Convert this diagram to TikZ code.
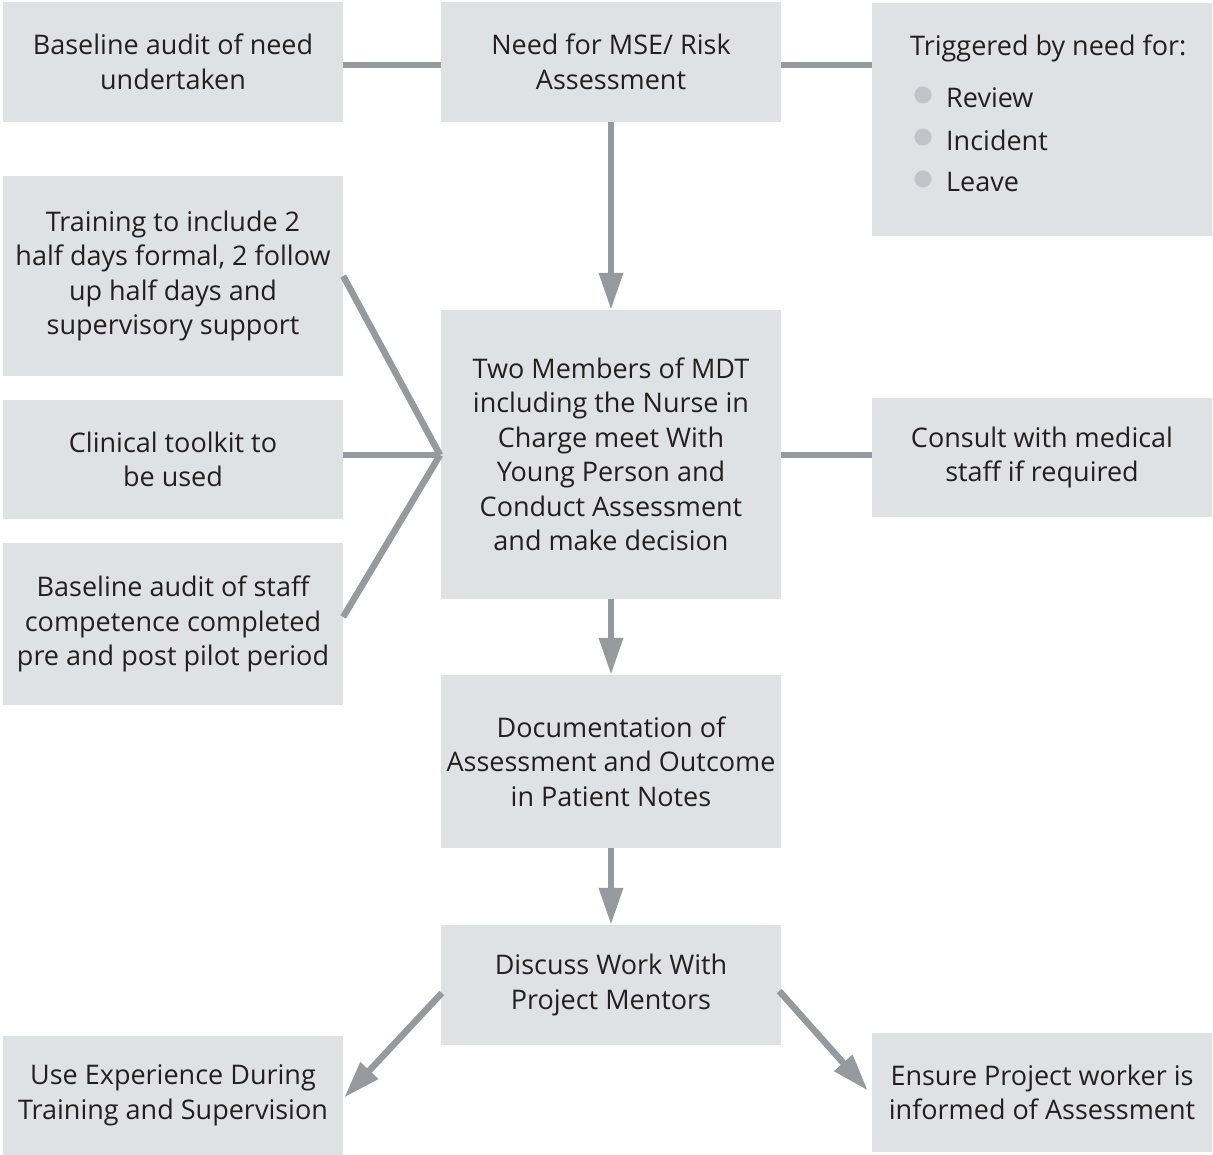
\documentclass[tikz,border=0pt]{standalone}
\usepackage{fontspec}
\setmainfont{Open Sans}
\usetikzlibrary{arrows.meta,calc}
\definecolor{boxfill}{HTML}{E0E1E4}
\definecolor{linec}{HTML}{959A9F}
\definecolor{bulc}{HTML}{C0C4C8}
\definecolor{txt}{HTML}{231F20}
\begin{document}
\begin{tikzpicture}[x=1pt,y=-1pt,
  box/.style={fill=boxfill,draw=none,minimum width=340pt,inner sep=0pt,align=center,text=txt,
    font=\fontsize{27}{34.5}\selectfont},
  conn/.style={draw=linec,line width=6.5pt},
  arr/.style={conn,-{Triangle[width=23pt,length=37pt]}},
  bul/.style={fill=bulc,draw=none,circle,minimum size=17pt,inner sep=0pt},
  lbl/.style={text=txt,font=\fontsize{27}{34.5}\selectfont,inner sep=0pt,anchor=west}]
\useasboundingbox (0,0) rectangle (1213,1155);
\fill[white] (0,0) rectangle (1213,1155);
\node[box,minimum height=120pt] (b1) at (173,62) {Baseline audit of need\\undertaken};
\node[box,minimum height=120pt] (b2) at (611,62) {Need for MSE/ Risk\\Assessment};
\node[box,minimum height=233pt] (b3) at (1042,119.5) {};
\node[lbl] (t0) at (910,48) {Triggered by need for:};
\node[bul] (c1) at (923,95) {};
\node[bul] (c2) at (923,137) {};
\node[bul] (c3) at (923,179) {};
\node[lbl] (t1) at (946,98) {Review};
\node[lbl] (t2) at (946,140) {Incident};
\node[lbl] (t3) at (946,182) {Leave};
\node[box,minimum height=200pt] (b4) at (173,276) {Training to include 2\\half days formal, 2 follow\\up half days and\\supervisory support};
\node[box,minimum height=119pt] (b5) at (173,459.5) {Clinical toolkit to\\be used};
\node[box,minimum height=162pt] (b6) at (173,624) {Baseline audit of staff\\competence completed\\pre and post pilot period};
\node[box,minimum height=289pt] (b7) at (611,454.5) {Two Members of MDT\\including the Nurse in\\Charge meet With\\Young Person and\\Conduct Assessment\\and make decision};
\node[box,minimum height=119pt] (b8) at (1042,457.5) {Consult with medical\\staff if required};
\node[box,minimum height=173pt] (b9) at (611,761.5) {Documentation of\\Assessment and Outcome\\in Patient Notes};
\node[box,minimum height=120pt] (b10) at (611,985) {Discuss Work With\\Project Mentors};
\node[box,minimum height=119pt] (b11) at (173,1095.5) {Use Experience During\\Training and Supervision};
\node[box,minimum height=119pt] (b12) at (1042,1092.5) {Ensure Project worker is\\informed of Assessment};
\coordinate (hub) at (440,455);
\draw[conn] (b1.east |- 0,65) -- (b2.west |- 0,65);
\draw[conn] (b2.east |- 0,65) -- (b3.west |- 0,65);
\draw[arr] (b2.south) -- (b7.north);
\draw[conn] (b4.east) -- (hub);
\draw[conn] (b5.east |- hub) -- (hub);
\draw[conn] (b6.east |- 0,617) -- (hub);
\draw[conn] (b7.east |- 0,455) -- (b8.west |- 0,455);
\draw[arr] (b7.south) -- (b9.north);
\draw[arr] (b9.south) -- (b10.north);
\draw[arr] ($(b10.west)+(1,8)$) -- ($(b11.east)+(1,2)$);
\draw[arr] ($(b10.east)+(-2,6)$) -- ($(b12.west)+(-4,-2)$);
\end{tikzpicture}
\end{document}
